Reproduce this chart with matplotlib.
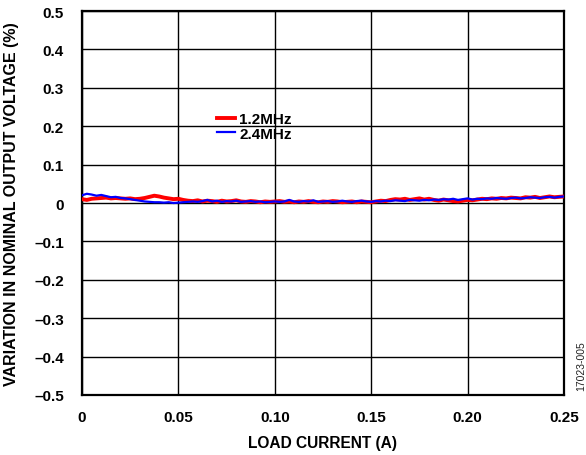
import numpy as np
import matplotlib
matplotlib.use("Agg")
import matplotlib.pyplot as plt

plt.rcParams['font.family'] = ['Liberation Sans', 'DejaVu Sans']

load_current = [round(i * 0.0025, 4) for i in range(101)]

var_1p2mhz = [0.010, 0.008, 0.011, 0.012, 0.013, 0.014, 0.012, 0.013, 0.012,
              0.011, 0.012, 0.010, 0.011, 0.013, 0.016, 0.019, 0.017,
              0.014, 0.012, 0.010, 0.011, 0.008, 0.006,
              0.005, 0.007, 0.004, 0.006, 0.005, 0.003, 0.006, 0.004, 0.005, 0.007, 0.004, 0.003, 0.005, 0.004, 0.002, 0.004, 0.003, 0.004,
              0.005, 0.003, 0.004, 0.002, 0.004, 0.003, 0.005, 0.003, 0.002, 0.004, 0.003, 0.005, 0.004, 0.002, 0.003, 0.004, 0.002, 0.004, 0.003, 0.002,
              0.004, 0.006, 0.005, 0.008, 0.010, 0.009, 0.011, 0.008, 0.010, 0.012, 0.009, 0.011, 0.008, 0.006, 0.009, 0.007,
              0.005, 0.004, 0.006, 0.008, 0.007, 0.009, 0.011, 0.010, 0.012, 0.011, 0.013, 0.012, 0.014, 0.013, 0.012, 0.015, 0.014, 0.016, 0.013, 0.015, 0.017, 0.015, 0.016, 0.017]

var_2p4mhz = [0.020, 0.024, 0.022, 0.019, 0.021, 0.018, 0.015, 0.016, 0.013,
              0.012, 0.010, 0.008, 0.006, 0.004, 0.003, 0.002, 0.002,
              0.001, 0.002, 0.000, 0.001, 0.002, 0.003,
              0.004, 0.003, 0.005, 0.008, 0.004, 0.006, 0.003, 0.005, 0.004, 0.006, 0.003, 0.004, 0.005, 0.003, 0.004, 0.002, 0.003, 0.004,
              0.003, 0.004, 0.008, 0.004, 0.003, 0.005, 0.004, 0.007, 0.003, 0.004, 0.005, 0.003, 0.004, 0.006, 0.004, 0.003, 0.005, 0.006, 0.004, 0.003,
              0.005, 0.004, 0.006, 0.005, 0.007, 0.006, 0.005, 0.008, 0.007, 0.006, 0.008, 0.007, 0.009, 0.008, 0.010, 0.009,
              0.011, 0.008, 0.010, 0.012, 0.009, 0.011, 0.010, 0.012, 0.011, 0.013, 0.012, 0.011, 0.013, 0.014, 0.012, 0.013, 0.015, 0.014, 0.013, 0.015, 0.016, 0.014, 0.016, 0.017]

x_ticks = [0, 0.05, 0.10, 0.15, 0.20, 0.25]
x_tick_labels = ["0", "0.05", "0.10", "0.15", "0.20", "0.25"]
y_ticks = [-0.5, -0.4, -0.3, -0.2, -0.1, 0, 0.1, 0.2, 0.3, 0.4, 0.5]
y_tick_labels = ["\u20130.5", "\u20130.4", "\u20130.3", "\u20130.2", "\u20130.1", "0",
                 "0.1", "0.2", "0.3", "0.4", "0.5"]

W, H = 586, 456
fig = plt.figure(figsize=(W / 100, H / 100), dpi=100)
ax = fig.add_axes([82 / W, (H - 396) / H, 482 / W, 384 / H])

ax.plot(load_current, var_1p2mhz, color='#ff0000', lw=2.8, label='1.2MHz', zorder=3)
ax.plot(load_current, var_2p4mhz, color='#0000ff', lw=1.6, label='2.4MHz', zorder=4)

ax.set_xlim(0, 0.25)
ax.set_ylim(-0.5, 0.5)
ax.set_xticks(x_ticks)
ax.set_xticklabels(x_tick_labels)
ax.set_yticks(y_ticks)
ax.set_yticklabels(y_tick_labels)
ax.tick_params(axis='y', length=0, labelsize=11, pad=13)
ax.tick_params(axis='x', length=0, labelsize=11, pad=11)
for lab in ax.get_xticklabels() + ax.get_yticklabels():
    lab.set_fontweight('bold')
ax.grid(True, color='black', lw=1.0)
ax.set_axisbelow(True)
for s in ax.spines.values():
    s.set_linewidth(1.6)
    s.set_color('black')

ax.set_xlabel('LOAD CURRENT (A)', fontsize=11.2, fontweight='bold', labelpad=8)
ax.set_ylabel('VARIATION IN NOMINAL OUTPUT VOLTAGE (%)', fontsize=11.5, fontweight='bold', labelpad=11)

leg = ax.legend(loc='upper left', bbox_to_anchor=(217 / W, 1 - 113 / H),
                bbox_transform=fig.transFigure, frameon=False,
                handlelength=1.2, handletextpad=0.25, labelspacing=0.05,
                prop={'weight': 'bold', 'size': 11}, borderpad=0, borderaxespad=0)

fig.text(581 / W, 1 - 366 / H, '17023-005', rotation=90, fontsize=7.5, color='#222222',
         ha='center', va='center')

fig.savefig('out.png', dpi=100)
